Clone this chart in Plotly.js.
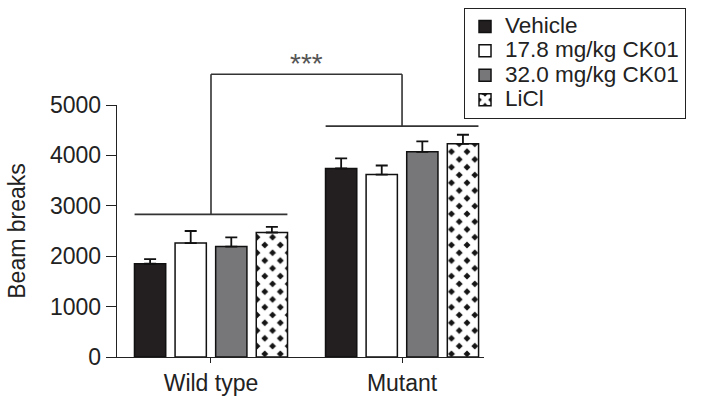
<!DOCTYPE html>
<html>
<head>
<meta charset="utf-8">
<script src="https://cdn.plot.ly/plotly-3.0.1.min.js"></script>
<style>html,body{margin:0;padding:0;background:#fff;}#chart{width:701px;height:406px;}</style>
</head>
<body>
<div id="chart"></div>
<script>
const categories = ['Wild type', 'Mutant'];
const seriesNames = ['Vehicle', '17.8 mg/kg CK01', '32.0 mg/kg CK01', 'LiCl'];
const vehicle = [1850, 3740];
const ck178 = [2260, 3620];
const ck320 = [2190, 4070];
const licl = [2470, 4230];
const vehicleErr = [90, 200];
const ck178Err = [240, 180];
const ck320Err = [185, 210];
const liclErr = [110, 180];
const yTicks = [0, 1000, 2000, 3000, 4000, 5000];
const bracketLevels = [2830, 4580];
const bracketTop = 5610;
const sigLabel = '***';

const values = [vehicle, ck178, ck320, licl];
const errs = [vehicleErr, ck178Err, ck320Err, liclErr];
const fills = [
  {color: '#231f20'},
  {color: '#ffffff'},
  {color: '#77777a'},
  {color: '#ffffff', pattern: {shape: 'x', fgcolor: '#ffffff', bgcolor: '#151515', size: 11, solidity: 0.8, fillmode: 'replace'}}
];

const traces = seriesNames.map((name, i) => ({
  type: 'bar',
  name: '<span style="font-size:22.5px">' + name + '</span>',
  x: categories,
  y: values[i],
  marker: Object.assign({}, fills[i], {line: {color: '#111', width: 1.5}}),
  error_y: {type: 'data', symmetric: false, array: errs[i], arrayminus: errs[i].map(() => 0),
            color: '#111', thickness: 1.8, width: 6},
  hoverinfo: 'none'
}));

const xr = [-0.492, 1.429];
const yr = [0, 5000];
const xp = v => (v - xr[0]) / (xr[1] - xr[0]);
const yp = v => (v - yr[0]) / (yr[1] - yr[0]);
const lineStyle = {color: '#333', width: 1.6};
const span = 0.4;
const shapes = [];
categories.forEach((c, i) => {
  shapes.push({type: 'line', xref: 'paper', yref: 'paper', x0: xp(i - span), x1: xp(i + span),
               y0: yp(bracketLevels[i]), y1: yp(bracketLevels[i]), line: lineStyle});
  shapes.push({type: 'line', xref: 'paper', yref: 'paper', x0: xp(i), x1: xp(i),
               y0: yp(bracketLevels[i]), y1: yp(bracketTop), line: lineStyle});
});
shapes.push({type: 'line', xref: 'paper', yref: 'paper', x0: xp(0), x1: xp(1),
             y0: yp(bracketTop), y1: yp(bracketTop), line: lineStyle});

const layout = {
  width: 701, height: 406,
  margin: {l: 117, r: 217, t: 105, b: 49, autoexpand: false},
  paper_bgcolor: '#fff', plot_bgcolor: '#fff',
  font: {family: 'Liberation Sans, Arial, sans-serif', size: 23, color: '#222'},
  barmode: 'group', bargap: 0.15, bargroupgap: 0.23,
  showlegend: true,
  legend: {x: 0.945, y: 1.385, xanchor: 'left', yanchor: 'top', bordercolor: '#222', borderwidth: 1.2,
           font: {size: 16.5}, tracegroupgap: 0, itemwidth: 30, bgcolor: '#fff'},
  xaxis: {type: 'category', range: xr, showline: true, linecolor: '#222', linewidth: 1.3,
          ticks: 'outside', ticklen: 5, tickcolor: '#222', showgrid: false, zeroline: false,
          tickfont: {size: 23}, fixedrange: true},
  yaxis: {range: yr, tickvals: yTicks, ticktext: yTicks.map(String), showline: true, linecolor: '#222', linewidth: 1.3,
          ticks: 'outside', ticklen: 10, tickcolor: '#222', showgrid: false, zeroline: false,
          tickfont: {size: 23}, title: {text: 'Beam breaks', font: {size: 23}, standoff: 18}, fixedrange: true},
  shapes: shapes,
  annotations: [{xref: 'paper', yref: 'paper', x: xp(0.5), y: yp(bracketTop), yanchor: 'bottom', xanchor: 'center',
                 text: sigLabel, showarrow: false, font: {size: 28, color: '#555'}, yshift: -7}]
};

Plotly.newPlot('chart', traces, layout, {displayModeBar: false, staticPlot: true});
</script>
</body>
</html>
